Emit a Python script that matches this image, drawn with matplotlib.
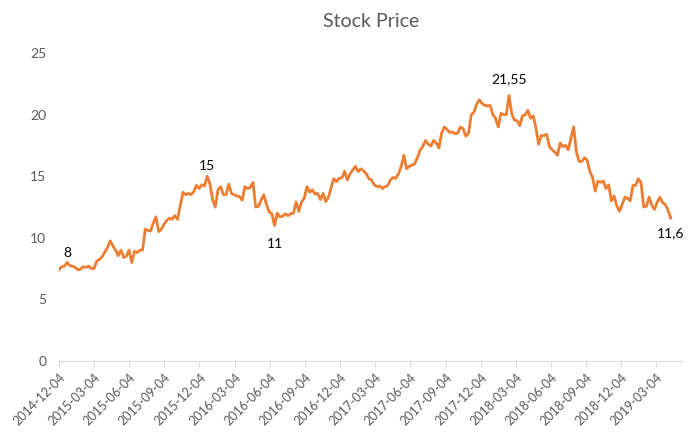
import numpy as np
import pandas as pd
import matplotlib
matplotlib.use('Agg')
from matplotlib import pyplot as plt
import matplotlib.dates as mdates

# weekly closing prices, starting 2014-12-04
start = '2014-12-04'
prices = [
    7.4, 7.65, 7.7, 8.0, 7.75, 7.7, 7.6, 7.4, 7.45, 7.65,
    7.6, 7.7, 7.52, 7.5, 8.1, 8.25, 8.45, 8.85, 9.2, 9.75,
    9.35, 9.0, 8.55, 9.0, 8.4, 8.5, 9.0, 8.0, 8.9, 8.8,
    9.0, 9.0, 10.7, 10.6, 10.55, 11.2, 11.7, 10.5, 10.7, 11.1,
    11.4, 11.6, 11.5, 11.8, 11.5, 12.6, 13.7, 13.5, 13.6, 13.5,
    13.75, 14.25, 14.0, 14.3, 14.2, 15.0, 14.4, 13.1, 12.5, 13.9,
    14.15, 13.5, 13.5, 14.35, 13.6, 13.5, 13.4, 13.35, 13.05, 14.15,
    14.0, 14.1, 14.5, 12.5, 12.55, 13.05, 13.5, 12.7, 12.1, 11.95,
    11.0, 12.0, 11.7, 11.75, 11.95, 11.8, 11.95, 12.0, 12.9, 12.15,
    12.9, 13.2, 14.15, 13.7, 13.9, 13.55, 13.6, 13.1, 13.6, 12.95,
    13.3, 14.1, 14.8, 14.55, 14.85, 14.85, 15.4, 14.7, 15.2, 15.5,
    15.8, 15.37, 15.6, 15.45, 15.2, 14.8, 14.7, 14.3, 14.15, 14.2,
    14.0, 14.15, 14.25, 14.7, 14.9, 14.83, 15.2, 15.8, 16.7, 15.6,
    15.8, 15.9, 16.0, 16.5, 17.1, 17.4, 17.9, 17.6, 17.45, 17.9,
    17.7, 17.3, 18.5, 19.0, 18.8, 18.55, 18.6, 18.45, 18.5, 19.0,
    18.85, 18.25, 18.5, 20.0, 20.2, 20.85, 21.2, 20.9, 20.75, 20.7,
    20.75, 20.0, 19.7, 19.0, 20.1, 20.0, 20.0, 21.55, 20.1, 19.55,
    19.5, 19.1, 19.9, 19.97, 20.35, 19.7, 19.9, 18.9, 17.6, 18.3,
    18.3, 18.4, 17.4, 17.15, 16.95, 16.7, 17.7, 17.4, 17.5, 17.15,
    18.1, 19.0, 17.0, 16.2, 16.2, 16.5, 16.3, 15.4, 14.9, 13.8,
    14.6, 14.5, 14.6, 14.0, 14.3, 13.0, 13.4, 12.6, 12.15, 12.7,
    13.3, 13.2, 13.0, 14.25, 14.25, 14.8, 14.45, 12.5, 12.55, 13.3,
    12.65, 12.3, 12.9, 13.3, 12.85, 12.7, 12.25, 11.6,
]
dates = pd.date_range(start, periods=len(prices), freq='7D')

# labelled points: index into prices, text, vertical offset (points)
label_idx = [3, 55, 80, 167, len(prices) - 1]
label_txt = ['8', '15', '11', '21,55', '11,6']
label_dy = [7, 7, -13, 12, -11]

plt.rcParams['font.family'] = ['Lato', 'DejaVu Sans']

fig = plt.figure(figsize=(6.98, 4.38), dpi=100)
ax = fig.add_axes([0.0845, 0.1758, 0.894, 0.7032])

ax.plot(dates, prices, color='#ED7D31', linewidth=2.0, solid_joinstyle='round')

for i, t, dy in zip(label_idx, label_txt, label_dy):
    ax.annotate(t, (dates[i], prices[i]), xytext=(0, dy), textcoords='offset points',
                ha='center', va='center', fontsize=10, color='black')

ax.set_ylim(0, 25)
ax.set_yticks([0, 5, 10, 15, 20, 25])
ax.set_xlim(pd.Timestamp('2014-12-04'), pd.Timestamp('2019-05-13'))
ax.xaxis.set_major_locator(mdates.MonthLocator(bymonth=[3, 6, 9, 12], bymonthday=4))
ax.xaxis.set_major_formatter(mdates.DateFormatter('%Y-%m-%d'))

for s in ['top', 'right', 'left']:
    ax.spines[s].set_visible(False)
ax.spines['bottom'].set_color('#d9d9d9')
ax.tick_params(axis='x', colors='#d9d9d9', length=4, width=0.8, labelcolor='#595959', labelsize=9)
ax.tick_params(axis='y', length=0, labelcolor='#595959', labelsize=10, pad=9)
plt.setp(ax.get_xticklabels(), rotation=45, ha='right', rotation_mode='anchor')

ax.set_title('Stock Price', fontsize=14, color='#595959', pad=19)

plt.savefig('out.png', dpi=100)
